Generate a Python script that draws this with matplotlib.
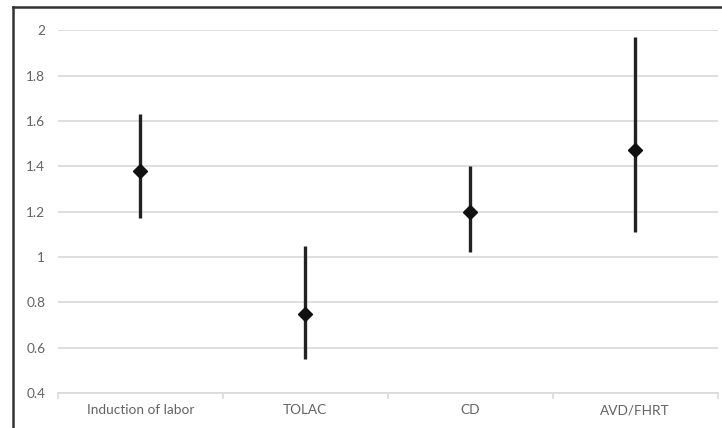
import matplotlib.pyplot as plt
from matplotlib.lines import Line2D
import numpy as np

# Datos
categorias = ["Induction of labor", "TOLAC", "CD", "AVD/FHRT"]
estimacion = [1.38, 0.75, 1.20, 1.47]
limite_inf = [1.17, 0.55, 1.02, 1.11]
limite_sup = [1.63, 1.05, 1.40, 1.97]

plt.rcParams['font.family'] = ['Lato', 'DejaVu Sans']

fig = plt.figure(figsize=(7.22, 4.28), dpi=100)
ax = fig.add_axes([0.080, 0.082, 0.914, 0.847])

x = np.arange(len(categorias))
est = np.array(estimacion)
err = [est - np.array(limite_inf), np.array(limite_sup) - est]

# Intervalos y puntos
ax.errorbar(x, est, yerr=err, fmt='D', color='#111111', ecolor='#222222',
            elinewidth=2.4, markersize=7.5, capsize=0, zorder=3)

ax.set_xlim(-0.5, len(categorias) - 0.5)
ax.set_ylim(0.4, 2.0)
ax.set_yticks(np.arange(0.4, 2.01, 0.2))
ax.set_yticklabels(['0.4', '0.6', '0.8', '1', '1.2', '1.4', '1.6', '1.8', '2'])
ax.set_xticks(x)
ax.set_xticklabels(categorias)
ax.set_xticks(np.arange(-0.5, len(categorias)), minor=True)

ax.grid(axis='y', color='#d9d9d9', linewidth=1.2)
ax.set_axisbelow(True)
for lado in ['top', 'right', 'left']:
    ax.spines[lado].set_visible(False)
ax.spines['bottom'].set_color('#d9d9d9')
ax.spines['bottom'].set_linewidth(1.2)

ax.tick_params(axis='both', which='major', length=0, labelsize=9.8, labelcolor='#636363')
ax.tick_params(axis='y', pad=9)
ax.tick_params(axis='x', pad=8)
ax.tick_params(axis='x', which='minor', length=4, color='#d9d9d9', width=1.2)

# Marco exterior del gráfico (solo visibles el borde superior e izquierdo)
x0, y0 = 12.5 / 722, 1 - 6.5 / 428
fig.lines.append(Line2D([x0, 1.0], [y0, y0], transform=fig.transFigure,
                        color='#333333', linewidth=1.8))
fig.lines.append(Line2D([x0, x0], [0.0, y0], transform=fig.transFigure,
                        color='#333333', linewidth=1.8))

fig.savefig('out.png', dpi=100)
